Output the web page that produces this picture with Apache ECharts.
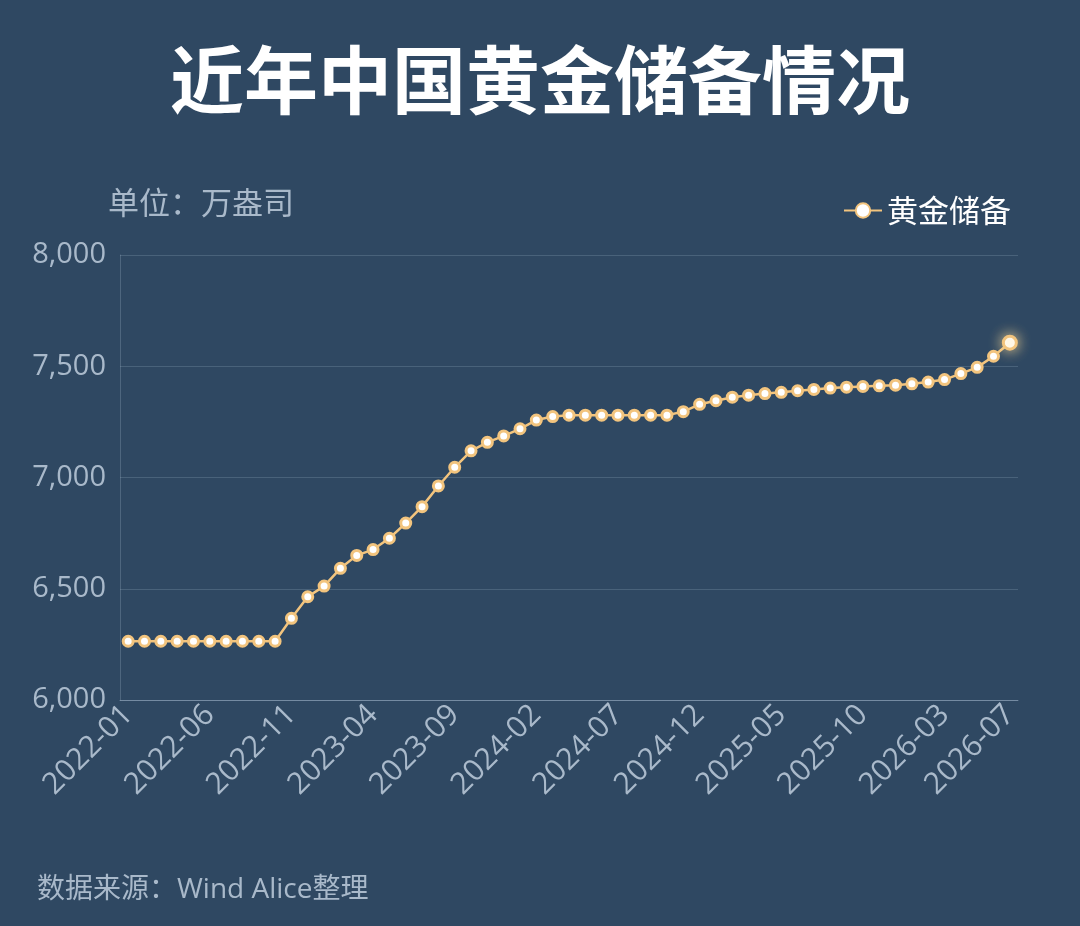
<!DOCTYPE html>
<html>
<head>
<meta charset="utf-8">
<title>近年中国黄金储备情况</title>
<script src="https://cdn.jsdelivr.net/npm/echarts@6/dist/echarts.min.js"></script>
<style>
  html, body { margin: 0; padding: 0; background: #2f4862; }
  #main { width: 1080px; height: 926px; }
</style>
</head>
<body>
<div id="main"></div>
<script>
// 月份 2022-01 ~ 2026-07
var months = [
  '2022-01','2022-02','2022-03','2022-04','2022-05','2022-06','2022-07','2022-08','2022-09','2022-10','2022-11','2022-12',
  '2023-01','2023-02','2023-03','2023-04','2023-05','2023-06','2023-07','2023-08','2023-09','2023-10','2023-11','2023-12',
  '2024-01','2024-02','2024-03','2024-04','2024-05','2024-06','2024-07','2024-08','2024-09','2024-10','2024-11','2024-12',
  '2025-01','2025-02','2025-03','2025-04','2025-05','2025-06','2025-07','2025-08','2025-09','2025-10','2025-11','2025-12',
  '2026-01','2026-02','2026-03','2026-04','2026-05','2026-06','2026-07'
];

// 黄金储备（万盎司）
var goldReserve = [
  6264, 6264, 6264, 6264, 6264, 6264, 6264, 6264, 6264, 6264, 6367, 6464,
  6512, 6592, 6650, 6676, 6727, 6795, 6869, 6962, 7046, 7120, 7158, 7187,
  7219, 7258, 7274, 7280, 7280, 7280, 7280, 7280, 7280, 7280, 7296, 7329,
  7345, 7361, 7370, 7377, 7383, 7390, 7396, 7402, 7406, 7409, 7412, 7415,
  7421, 7429, 7440, 7467, 7495, 7545, 7606
];

var yTicks = [6000, 6500, 7000, 7500, 8000];

var labelColor = '#a9b9ca';
var gold = '#f2c47e';
var latin = '"Open Sans", "Noto Sans CJK SC", sans-serif';
var cjk = '"Noto Sans CJK SC", sans-serif';

// 最后一个点加光晕
var seriesData = goldReserve.map(function (v, i) {
  if (i === goldReserve.length - 1) {
    return {
      value: v,
      symbolSize: 13,
      itemStyle: { shadowBlur: 14, shadowColor: 'rgba(255,220,150,0.9)' }
    };
  }
  return v;
});

var option = {
  backgroundColor: '#2f4862',
  textStyle: { fontFamily: cjk },
  title: {
    text: '近年中国黄金储备情况',
    left: 'center',
    top: 38,
    textStyle: {
      color: '#ffffff',
      fontSize: 74,
      fontWeight: 'bold',
      fontFamily: cjk
    }
  },
  legend: {
    right: 64,
    top: 190,
    itemWidth: 38,
    itemHeight: 18,
    itemGap: 10,
    textStyle: { color: '#ffffff', fontSize: 31, fontFamily: cjk },
    data: ['黄金储备']
  },
  graphic: [
    {
      type: 'text',
      left: 108,
      top: 187,
      style: { text: '单位：万盎司', fill: labelColor, fontSize: 31, fontFamily: cjk }
    },
    {
      type: 'text',
      left: 37,
      top: 876,
      style: { text: '数据来源：Wind Alice整理', fill: labelColor, fontSize: 28, fontFamily: latin }
    }
  ],
  grid: {
    left: 120,
    right: 62,
    top: 255,
    bottom: 226
  },
  xAxis: {
    type: 'category',
    data: months,
    boundaryGap: true,
    axisLine: { lineStyle: { color: 'rgba(170,190,210,0.45)' } },
    axisTick: { show: false },
    axisLabel: {
      color: labelColor,
      fontSize: 30,
      fontFamily: latin,
      rotate: 45,
      margin: 10,
      interval: function (i) { return i % 5 === 0 || i === months.length - 1; }
    }
  },
  yAxis: {
    type: 'value',
    min: yTicks[0],
    max: yTicks[yTicks.length - 1],
    interval: 500,
    axisLine: { show: true, lineStyle: { color: 'rgba(170,190,210,0.25)' } },
    axisTick: { show: false },
    axisLabel: {
      color: labelColor,
      fontSize: 29,
      fontFamily: latin,
      margin: 14,
      padding: [4, 0, 0, 0],
      formatter: function (v) { return v.toLocaleString('en-US'); }
    },
    splitLine: { lineStyle: { color: 'rgba(170,190,210,0.22)' } }
  },
  series: [
    {
      name: '黄金储备',
      type: 'line',
      data: seriesData,
      symbol: 'circle',
      symbolSize: 10,
      showAllSymbol: true,
      lineStyle: { color: gold, width: 2.5 },
      itemStyle: { color: '#ffffff', borderColor: gold, borderWidth: 3 }
    }
  ]
};

var myChart = echarts.init(document.getElementById('main'));
myChart.setOption(option);
</script>
</body>
</html>
